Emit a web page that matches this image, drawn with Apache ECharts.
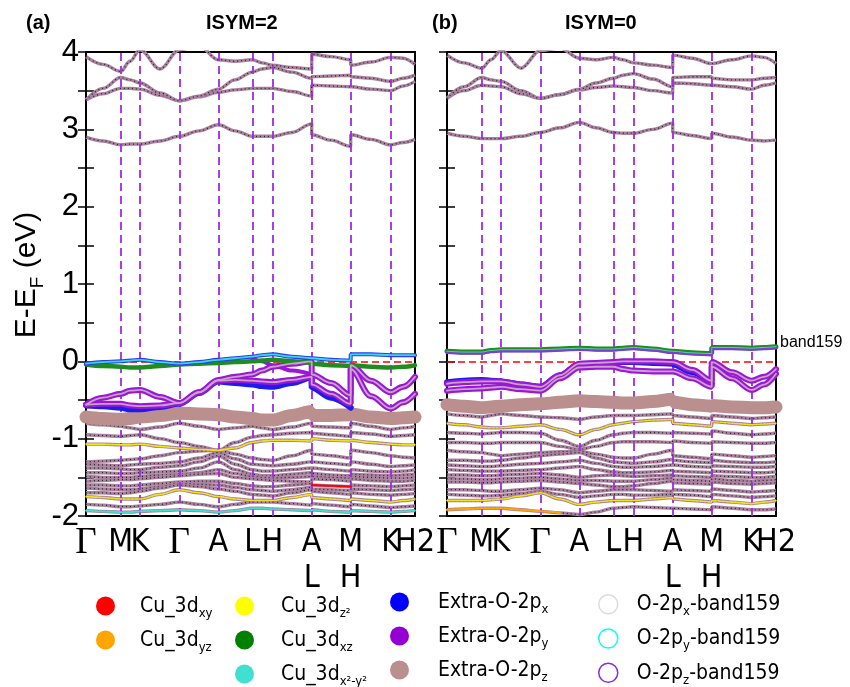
<!DOCTYPE html>
<html>
<head>
<meta charset="UTF-8" />
<script src="https://cdn.jsdelivr.net/npm/echarts@6/dist/echarts.min.js"></script>
</head>
<body style="margin:0">
<div id="main" style="width: 850px; height: 687px"></div>
<script type="text/javascript">
// k-path (same spacing in both panels), two values at the path breaks A|L and M|H
var kGrid = [0, 17, 34.7, 44, 54, 74, 93.3, 113, 132.3, 149, 166.3, 176, 186.3, 206, 225.7, 225.7, 245, 264.7, 264.7, 285, 304.7, 317, 329];
var kTicks = [0, 34.7, 54, 93.3, 132.3, 166.3, 186.3, 225.7, 264.7, 304.7];
var kLabels = ['Γ', 'M', 'K', 'Γ', 'A', 'L', 'H', 'A\nL', 'M\nH', 'K'];
var kEnd = 329;
var kEndLabel = 'H2';

// (a) ISYM=2
var aUp29 = [2.90, 2.85, 2.80, 2.81, 2.81, 2.85, 2.91, 2.98, 3.06, 2.98, 2.91, 2.91, 2.91, 2.96, 3.07, 2.93, 2.86, 2.78, 2.93, 2.87, 2.80, 2.83, 2.87];
var aUp1 = [3.38, 3.46, 3.53, 3.53, 3.52, 3.44, 3.37, 3.42, 3.48, 3.51, 3.53, 3.53, 3.53, 3.49, 3.43, 3.57, 3.56, 3.55, 3.55, 3.52, 3.50, 3.56, 3.62];
var aUp2 = [3.38, 3.53, 3.67, 3.64, 3.60, 3.47, 3.37, 3.43, 3.52, 3.64, 3.74, 3.78, 3.80, 3.74, 3.66, 3.68, 3.69, 3.70, 3.68, 3.66, 3.62, 3.66, 3.70];
var aUp3 = [3.94, 3.84, 3.75, 3.88, 4.03, 3.78, 4.03, 4.08, 3.90, 3.88, 3.90, 3.86, 3.83, 3.80, 3.78, 3.97, 3.94, 3.90, 3.83, 3.87, 3.93, 3.92, 3.84];
var aTop = [-0.03, -0.01, 0.00, 0.01, 0.02, -0.01, -0.03, -0.01, 0.02, 0.04, 0.06, 0.08, 0.09, 0.06, 0.04, 0.04, 0.02, 0.01, 0.09, 0.09, 0.08, 0.08, 0.08];
var aXz = [-0.04, -0.06, -0.07, -0.08, -0.08, -0.06, -0.04, -0.03, -0.02, -0.01, 0.00, 0.01, 0.02, 0.00, -0.02, -0.03, -0.05, -0.06, -0.05, -0.07, -0.08, -0.07, -0.05];
var aPy1 = [-0.56, -0.47, -0.42, -0.38, -0.37, -0.46, -0.54, -0.40, -0.24, -0.20, -0.17, -0.12, -0.07, -0.03, 0.00, -0.17, -0.28, -0.44, -0.05, -0.25, -0.40, -0.33, -0.20];
var aPy2 = [-0.56, -0.55, -0.55, -0.57, -0.58, -0.57, -0.54, -0.40, -0.25, -0.24, -0.25, -0.26, -0.27, -0.24, -0.20, -0.30, -0.42, -0.55, -0.10, -0.45, -0.61, -0.53, -0.42];
var aPy3 = [null, null, null, null, null, null, null, null, null, null, 0.04, 0.00, -0.05, -0.12, -0.17, null, null, null, null, null, null, null, null];
var aPx = [-0.57, -0.58, -0.60, -0.62, -0.62, -0.59, -0.55, -0.41, -0.26, -0.28, -0.30, -0.32, -0.33, -0.28, -0.21, -0.34, -0.47, -0.60, null, null, null, null, null];
var aPz = [-0.72, -0.74, -0.75, -0.74, -0.72, -0.70, -0.67, -0.68, -0.69, -0.72, -0.74, -0.76, -0.76, -0.70, -0.65, -0.70, -0.70, -0.69, -0.68, -0.72, -0.74, -0.73, -0.72];
var aD0 = [-0.80, -0.82, -0.84, -0.86, -0.88, -0.85, -0.80, -0.84, -0.88, -0.86, -0.84, -0.86, -0.88, -0.85, -0.80, -0.84, -0.85, -0.86, -0.80, -0.84, -0.88, -0.86, -0.84];
var aD1 = [-0.95, -0.96, -0.97, -0.96, -0.95, -1.00, -1.05, -1.10, -1.15, -1.05, -0.98, -0.96, -0.95, -0.93, -0.92, -0.93, -0.95, -0.97, -0.92, -0.94, -0.97, -0.96, -0.95];
var aD2 = [-1.07, -1.07, -1.08, -1.08, -1.07, -1.10, -1.12, -1.14, -1.15, -1.12, -1.05, -1.03, -1.02, -1.02, -1.03, -1.00, -1.02, -1.03, -1.02, -1.05, -1.07, -1.08, -1.08];
var aD3 = [-1.30, -1.29, -1.28, -1.27, -1.26, -1.22, -1.18, -1.16, -1.15, -1.20, -1.25, -1.27, -1.28, -1.22, -1.15, -1.20, -1.22, -1.25, -1.15, -1.18, -1.22, -1.24, -1.25];
var aD4 = [-1.33, -1.34, -1.35, -1.34, -1.33, -1.32, -1.30, -1.25, -1.18, -1.26, -1.33, -1.34, -1.35, -1.33, -1.30, -1.30, -1.32, -1.34, -1.30, -1.33, -1.36, -1.35, -1.34];
var aD5 = [-1.38, -1.38, -1.39, -1.40, -1.40, -1.37, -1.35, -1.30, -1.22, -1.33, -1.40, -1.42, -1.42, -1.40, -1.38, -1.38, -1.40, -1.42, -1.40, -1.42, -1.43, -1.42, -1.40];
var aD6 = [-1.44, -1.44, -1.45, -1.45, -1.44, -1.43, -1.42, -1.38, -1.30, -1.40, -1.46, -1.48, -1.48, -1.46, -1.44, -1.45, -1.47, -1.48, -1.46, -1.47, -1.48, -1.47, -1.46];
var aD6b = [-1.49, -1.50, -1.50, -1.50, -1.49, -1.47, -1.46, -1.44, -1.40, -1.45, -1.49, -1.50, -1.51, -1.50, -1.49, -1.49, -1.50, -1.51, -1.49, -1.50, -1.51, -1.51, -1.50];
var aD7 = [-1.55, -1.54, -1.53, -1.53, -1.52, -1.50, -1.48, -1.46, -1.45, -1.50, -1.52, -1.53, -1.54, -1.55, -1.56, -1.52, -1.53, -1.55, -1.52, -1.54, -1.55, -1.55, -1.54];
var aD8 = [-1.60, -1.60, -1.61, -1.61, -1.60, -1.58, -1.56, -1.55, -1.55, -1.58, -1.61, -1.62, -1.62, -1.60, -1.58, -1.60, -1.61, -1.62, -1.60, -1.61, -1.62, -1.61, -1.60];
var aD8b = [-1.64, -1.65, -1.66, -1.66, -1.65, -1.62, -1.58, -1.59, -1.60, -1.63, -1.66, -1.67, -1.68, -1.66, -1.63, -1.65, -1.66, -1.67, -1.65, -1.66, -1.67, -1.66, -1.65];
var aD9 = [-1.70, -1.70, -1.71, -1.70, -1.68, -1.64, -1.60, -1.62, -1.65, -1.68, -1.72, -1.73, -1.74, -1.70, -1.66, -1.68, -1.70, -1.72, -1.70, -1.72, -1.73, -1.72, -1.71];
var aD10 = [-1.75, -1.76, -1.78, -1.78, -1.78, -1.72, -1.66, -1.70, -1.75, -1.78, -1.80, -1.80, -1.80, -1.76, -1.72, -1.76, -1.78, -1.80, -1.78, -1.80, -1.82, -1.80, -1.78];
var aD11 = [-1.85, -1.86, -1.88, -1.88, -1.87, -1.85, -1.82, -1.85, -1.88, -1.85, -1.82, -1.82, -1.82, -1.84, -1.86, -1.84, -1.86, -1.88, -1.85, -1.87, -1.89, -1.88, -1.87];
var aD12 = [-1.93, -1.94, -1.95, -1.95, -1.94, -1.93, -1.92, -1.93, -1.95, -1.93, -1.90, -1.90, -1.91, -1.92, -1.93, -1.92, -1.94, -1.95, -1.93, -1.94, -1.95, -1.94, -1.93];
var aXySeg = [null, null, null, null, null, null, null, null, null, null, null, null, null, null, null, -1.60, -1.61, -1.62, null, null, null, null, null];

// (b) ISYM=0
var bUp29 = [2.95, 2.91, 2.88, 2.88, 2.88, 2.91, 2.96, 3.02, 3.09, 3.02, 2.96, 2.95, 2.95, 3.00, 3.08, 2.96, 2.92, 2.88, 2.95, 2.90, 2.86, 2.85, 2.86];
var bUp1 = [3.40, 3.50, 3.57, 3.56, 3.55, 3.46, 3.40, 3.45, 3.51, 3.54, 3.56, 3.55, 3.54, 3.50, 3.47, 3.60, 3.59, 3.57, 3.57, 3.55, 3.52, 3.57, 3.60];
var bUp2 = [3.40, 3.55, 3.67, 3.64, 3.62, 3.50, 3.40, 3.45, 3.52, 3.60, 3.66, 3.70, 3.72, 3.65, 3.55, 3.67, 3.68, 3.68, 3.66, 3.64, 3.64, 3.66, 3.67];
var bUp3 = [3.96, 3.86, 3.79, 3.90, 4.02, 3.79, 4.02, 4.05, 3.92, 3.90, 3.93, 3.90, 3.86, 3.83, 3.80, 3.96, 3.92, 3.85, 3.85, 3.90, 3.95, 3.93, 3.85];
var bXz = [0.13, 0.12, 0.12, 0.14, 0.15, 0.15, 0.15, 0.16, 0.17, 0.16, 0.16, 0.17, 0.18, 0.16, 0.13, 0.13, 0.11, 0.10, 0.18, 0.18, 0.17, 0.18, 0.19];
var bCore = [0.11, 0.10, 0.10, 0.12, 0.13, 0.13, 0.13, 0.14, 0.15, 0.14, 0.14, 0.15, 0.16, 0.14, 0.11, 0.11, 0.09, 0.08, 0.16, 0.16, 0.15, 0.16, 0.17];
var bPy1 = [-0.29, -0.27, -0.26, -0.26, -0.26, -0.30, -0.33, -0.18, -0.03, -0.02, -0.01, 0.00, 0.00, 0.00, -0.01, -0.01, -0.11, -0.25, -0.01, -0.14, -0.25, -0.20, -0.10];
var bPy2 = [-0.38, -0.36, -0.35, -0.34, -0.33, -0.36, -0.38, -0.22, -0.08, -0.07, -0.07, -0.10, -0.12, -0.13, -0.13, -0.13, -0.22, -0.33, -0.07, -0.22, -0.37, -0.30, -0.16];
var bPx = [-0.27, -0.25, -0.24, -0.25, -0.26, -0.30, -0.33, -0.18, -0.04, -0.03, -0.02, -0.01, -0.01, -0.02, -0.03, -0.04, -0.14, -0.29, null, null, null, null, null];
var bPz = [-0.56, -0.58, -0.60, -0.59, -0.58, -0.56, -0.55, -0.53, -0.51, -0.52, -0.53, -0.54, -0.54, -0.52, -0.49, -0.53, -0.56, -0.58, -0.57, -0.59, -0.60, -0.60, -0.59];
var bD1 = [-0.68, -0.70, -0.72, -0.70, -0.68, -0.70, -0.72, -0.73, -0.75, -0.72, -0.70, -0.70, -0.70, -0.69, -0.68, -0.70, -0.72, -0.74, -0.70, -0.72, -0.74, -0.73, -0.72];
var bD2 = [-0.80, -0.82, -0.85, -0.86, -0.86, -0.84, -0.82, -0.88, -0.95, -0.88, -0.82, -0.80, -0.78, -0.76, -0.75, -0.80, -0.82, -0.84, -0.78, -0.80, -0.82, -0.81, -0.80];
var bD3 = [-0.92, -0.93, -0.94, -0.93, -0.92, -0.92, -0.93, -1.02, -1.10, -1.02, -0.95, -0.93, -0.92, -0.92, -0.93, -0.92, -0.93, -0.94, -0.90, -0.93, -0.95, -0.94, -0.93];
var bD4 = [-1.05, -1.05, -1.06, -1.06, -1.05, -1.05, -1.05, -1.10, -1.14, -1.10, -1.05, -1.04, -1.04, -1.04, -1.05, -1.03, -1.05, -1.06, -1.04, -1.05, -1.06, -1.06, -1.05];
var bD5 = [-1.15, -1.17, -1.18, -1.20, -1.22, -1.20, -1.18, -1.17, -1.16, -1.20, -1.24, -1.25, -1.25, -1.20, -1.15, -1.22, -1.24, -1.26, -1.20, -1.22, -1.24, -1.23, -1.22];
var bD6 = [-1.28, -1.28, -1.29, -1.29, -1.28, -1.25, -1.22, -1.20, -1.18, -1.25, -1.30, -1.31, -1.32, -1.30, -1.27, -1.28, -1.30, -1.31, -1.28, -1.30, -1.31, -1.31, -1.30];
var bD7 = [-1.34, -1.35, -1.36, -1.36, -1.35, -1.33, -1.32, -1.30, -1.28, -1.32, -1.36, -1.37, -1.37, -1.36, -1.34, -1.34, -1.36, -1.37, -1.35, -1.36, -1.37, -1.37, -1.36];
var bD8 = [-1.40, -1.41, -1.42, -1.42, -1.42, -1.41, -1.40, -1.38, -1.36, -1.40, -1.43, -1.44, -1.44, -1.43, -1.41, -1.42, -1.43, -1.44, -1.42, -1.43, -1.44, -1.44, -1.43];
var bD9 = [-1.47, -1.47, -1.48, -1.48, -1.47, -1.46, -1.45, -1.47, -1.50, -1.48, -1.47, -1.48, -1.49, -1.48, -1.47, -1.48, -1.49, -1.50, -1.48, -1.49, -1.50, -1.50, -1.49];
var bD9b = [-1.52, -1.52, -1.53, -1.53, -1.52, -1.51, -1.50, -1.52, -1.54, -1.54, -1.55, -1.55, -1.55, -1.53, -1.51, -1.53, -1.54, -1.55, -1.52, -1.54, -1.55, -1.54, -1.53];
var bD10 = [-1.56, -1.56, -1.57, -1.57, -1.56, -1.55, -1.54, -1.56, -1.58, -1.60, -1.62, -1.62, -1.61, -1.58, -1.55, -1.57, -1.58, -1.59, -1.56, -1.58, -1.59, -1.58, -1.57];
var bD11 = [-1.66, -1.66, -1.67, -1.68, -1.68, -1.66, -1.64, -1.66, -1.70, -1.68, -1.66, -1.66, -1.66, -1.67, -1.68, -1.66, -1.67, -1.68, -1.65, -1.67, -1.69, -1.68, -1.67];
var bD11b = [-1.72, -1.73, -1.74, -1.74, -1.73, -1.71, -1.68, -1.72, -1.76, -1.74, -1.72, -1.72, -1.73, -1.73, -1.72, -1.72, -1.73, -1.75, -1.72, -1.74, -1.76, -1.75, -1.74];
var bD12 = [-1.80, -1.80, -1.80, -1.79, -1.78, -1.74, -1.70, -1.78, -1.85, -1.82, -1.80, -1.80, -1.80, -1.78, -1.76, -1.78, -1.80, -1.82, -1.80, -1.82, -1.84, -1.82, -1.80];
var bD13 = [-1.92, -1.91, -1.90, -1.90, -1.90, -1.92, -1.94, -1.96, -1.98, -1.95, -1.90, -1.89, -1.88, -1.89, -1.90, -1.90, -1.91, -1.92, -1.88, -1.90, -1.92, -1.92, -1.91];
var bYzSeg = [-1.92, -1.91, -1.90, -1.90, -1.90, -1.92, -1.94, -1.96, null, null, null, null, null, null, null, null, null, null, null, null, null, null, null];

var legendCols = [
    ['Cu_3d_xy', 'Cu_3d_yz'],
    ['Cu_3d_z2', 'Cu_3d_xz', 'Cu_3d_x2-y2'],
    ['Extra-O-2p_x', 'Extra-O-2p_y', 'Extra-O-2p_z'],
    ['O-2p_x-band159', 'O-2p_y-band159', 'O-2p_z-band159']
];
var legendText = {
    'Cu_3d_xy': '{m|Cu_3d}{s|xy}',
    'Cu_3d_yz': '{m|Cu_3d}{s|yz}',
    'Cu_3d_z2': '{m|Cu_3d}{s|z²}',
    'Cu_3d_xz': '{m|Cu_3d}{s|xz}',
    'Cu_3d_x2-y2': '{m|Cu_3d}{s|x²-y²}',
    'Extra-O-2p_x': '{m|Extra-O-2p}{s|x}',
    'Extra-O-2p_y': '{m|Extra-O-2p}{s|y}',
    'Extra-O-2p_z': '{m|Extra-O-2p}{s|z}',
    'O-2p_x-band159': '{m|O-2p}{s|x}{m|-band159}',
    'O-2p_y-band159': '{m|O-2p}{s|y}{m|-band159}',
    'O-2p_z-band159': '{m|O-2p}{s|z}{m|-band159}'
};
var colors = {
    'Cu_3d_xy': '#ff0000',
    'Cu_3d_yz': '#ffa500',
    'Cu_3d_z2': '#ffff00',
    'Cu_3d_xz': '#008000',
    'Cu_3d_x2-y2': '#40e0d0',
    'Extra-O-2p_x': '#0000ff',
    'Extra-O-2p_y': '#9400d3',
    'Extra-O-2p_z': '#bc8f8f',
    'O-2p_x-band159': '#dcdcdc',
    'O-2p_y-band159': '#00ffff',
    'O-2p_z-band159': '#8a2be2'
};

var sans = 'Liberation Sans, Arial, sans-serif';
var narrow = 'Liberation Sans Narrow, Arial Narrow, DejaVu Sans Condensed, sans-serif';

var series = [];

function pts(arr) {
    return arr.map(function (e, i) {
        return [kGrid[i], e === null ? '-' : e];
    });
}

function plainBand(arr, g) {
    series.push({
        type: 'line', xAxisIndex: g * 2, yAxisIndex: g * 2, data: pts(arr),
        showSymbol: false, smooth: 0.35, smoothMonotone: 'x', silent: true, z: 2,
        lineStyle: { color: '#a9819f', width: 3.4 }
    });
    series.push({
        type: 'line', xAxisIndex: g * 2, yAxisIndex: g * 2, data: pts(arr),
        showSymbol: false, smooth: 0.35, smoothMonotone: 'x', silent: true, z: 2,
        lineStyle: { color: '#222', width: 1.3, type: [1, 3] }
    });
}

function fatBand(name, arr, g, color, width, z) {
    series.push({
        name: name, type: 'line', xAxisIndex: g * 2, yAxisIndex: g * 2, data: pts(arr),
        showSymbol: false, smooth: 0.35, smoothMonotone: 'x', silent: true, z: z,
        itemStyle: { color: color },
        lineStyle: { color: color, width: width, cap: 'round' }
    });
}

[[aUp29, aUp1, aUp2, aUp3, aD0, aD1, aD2, aD3, aD4, aD5, aD6, aD6b, aD7, aD8, aD8b, aD9, aD10, aD11, aD12],
 [bUp29, bUp1, bUp2, bUp3, bD1, bD2, bD3, bD4, bD5, bD6, bD7, bD8, bD9, bD9b, bD10, bD11, bD11b, bD12, bD13]].forEach(function (list, g) {
    list.forEach(function (arr) { plainBand(arr, g); });
});

// k-point separators and the Fermi level
[0, 1].forEach(function (g) {
    series.push({
        type: 'line', xAxisIndex: g * 2, yAxisIndex: g * 2, data: [], silent: true,
        markLine: {
            z: 3, silent: true, symbol: 'none', label: { show: false },
            lineStyle: { color: '#9d2bea', width: 1.8, type: [8, 5] },
            data: kTicks.slice(1).map(function (k) { return { xAxis: k }; })
        }
    });
    series.push({
        type: 'line', xAxisIndex: g * 2, yAxisIndex: g * 2, data: [], silent: true,
        markLine: {
            z: 3, silent: true, symbol: 'none', label: { show: false },
            lineStyle: { color: '#ff0000', width: 1.6, type: [7, 4] },
            data: [{ yAxis: 0 }]
        }
    });
});

// projected (fat) bands, panel (a)
fatBand('O-2p_x-band159', aTop, 0, colors['O-2p_x-band159'], 1, 3);
fatBand('Cu_3d_z2', aD2, 0, '#f2e21a', 1.6, 3);
fatBand('Cu_3d_z2', aD10, 0, '#f2e21a', 1.6, 3);
fatBand('Cu_3d_x2-y2', aD12, 0, colors['Cu_3d_x2-y2'], 1.8, 3);
fatBand('Cu_3d_xy', aXySeg, 0, colors['Cu_3d_xy'], 2, 3);
fatBand('Extra-O-2p_z', aPz, 0, colors['Extra-O-2p_z'], 13, 4);
fatBand('Extra-O-2p_x', aPx, 0, '#1c1cf0', 6, 5);
fatBand('Extra-O-2p_y', aPy1, 0, '#9a16d8', 6, 6);
fatBand('Extra-O-2p_y', aPy2, 0, '#9a16d8', 6, 6);
fatBand('Extra-O-2p_y', aPy3, 0, '#9a16d8', 4, 6);
fatBand('', aPy1, 0, '#c9a3c2', 1.8, 7);
fatBand('', aPy2, 0, '#c9a3c2', 1.8, 7);
fatBand('Cu_3d_xz', aXz, 0, '#1e8c1e', 4.5, 6);
fatBand('Extra-O-2p_x', aTop, 0, '#2a3cf0', 4, 7);
fatBand('O-2p_y-band159', aTop, 0, '#38d8ea', 1.8, 8);

// projected (fat) bands, panel (b)
fatBand('O-2p_x-band159', bCore, 1, colors['O-2p_x-band159'], 1, 3);
fatBand('Cu_3d_z2', bD12, 1, '#f2e21a', 1.6, 3);
fatBand('Cu_3d_z2', bD2, 1, '#f2e21a', 1.4, 3);
fatBand('Cu_3d_yz', bYzSeg, 1, colors['Cu_3d_yz'], 2, 3);
fatBand('Extra-O-2p_z', bPz, 1, colors['Extra-O-2p_z'], 13, 4);
fatBand('Extra-O-2p_x', bPx, 1, '#1c1cf0', 6, 5);
fatBand('Extra-O-2p_y', bPy1, 1, '#9a16d8', 6, 6);
fatBand('Extra-O-2p_y', bPy2, 1, '#9a16d8', 6, 6);
fatBand('', bPy1, 1, '#c9a3c2', 1.8, 7);
fatBand('', bPy2, 1, '#c9a3c2', 1.8, 7);
fatBand('Cu_3d_xz', bXz, 1, '#1e8c1e', 5, 6);
fatBand('O-2p_z-band159', bCore, 1, '#7b3fd0', 2.5, 7);
fatBand('O-2p_y-band159', bXz, 1, '#5fd0b0', 1, 7);

function kLabel(v) {
    var best = 0;
    kTicks.forEach(function (k, i) {
        if (Math.abs(k - v) < Math.abs(kTicks[best] - v)) best = i;
    });
    var s = kLabels[best];
    return s === 'Γ' ? '{g|Γ}' : s;
}

var xLabelStyle = {
    margin: 9, color: '#000', fontSize: 32, lineHeight: 36, fontFamily: narrow,
    rich: { g: { fontFamily: 'Liberation Serif, Times New Roman, serif', fontSize: 37, lineHeight: 36 } }
};

// main k labels, plus a separate axis for the end label so the overlap check keeps both
function xAx(g, end) {
    var lab = Object.assign({}, xLabelStyle, end
        ? { customValues: [kEnd], formatter: function () { return kEndLabel; } }
        : { customValues: kTicks, formatter: kLabel });
    return {
        gridIndex: g, type: 'value', position: 'bottom', min: 0, max: kEnd,
        axisLine: { show: false }, axisTick: { show: false }, splitLine: { show: false },
        axisLabel: lab
    };
}

function yAx(g, pos, withLabels) {
    var ax = {
        gridIndex: g, type: 'value', position: pos, min: -2, max: 4, interval: 0.5,
        axisLine: { show: false }, splitLine: { show: false },
        axisTick: { show: true, inside: true, length: 8, lineStyle: { color: '#000', width: 1.5 } },
        axisLabel: {
            show: withLabels, margin: 7, color: '#000', fontSize: 31, fontFamily: sans,
            formatter: function (v) { return v % 1 === 0 ? String(v) : ''; }
        }
    };
    if (withLabels) {
        ax.name = '{m|E-E}{s|F}{m| (eV)}';
        ax.nameLocation = 'middle';
        ax.nameRotate = 90;
        ax.nameGap = 42;
        ax.nameTextStyle = {
            color: '#000', padding: [0, 0, 0, 18],
            rich: {
                m: { fontSize: 30, fontFamily: sans, lineHeight: 32, verticalAlign: 'top' },
                s: { fontSize: 19, fontFamily: sans, lineHeight: 19, padding: [17, 0, 0, 0], verticalAlign: 'top' }
            }
        };
    }
    return ax;
}

var legendPos = [[96, 596, 20], [235, 596, 22], [390, 592, 24], [598, 594, 14]];

function legendCol(names, c) {
    return {
        orient: 'vertical', left: legendPos[c][0], top: legendPos[c][1], height: 120, padding: 0,
        itemGap: 10, itemWidth: 19, itemHeight: 19, selectedMode: false,
        data: names.map(function (n) {
            var hollow = n.indexOf('band159') > 0;
            return {
                name: n, icon: 'circle',
                itemStyle: hollow
                    ? { color: '#fff', borderColor: colors[n], borderWidth: 1.5 }
                    : { color: colors[n], borderWidth: 0 }
            };
        }),
        formatter: function (n) { return '{p| }' + legendText[n]; },
        textStyle: {
            color: '#000',
            rich: {
                p: { width: legendPos[c][2] },
                m: { fontSize: 21, fontFamily: narrow, lineHeight: 20, verticalAlign: 'top' },
                s: { fontSize: 13, fontFamily: narrow, lineHeight: 12, padding: [11, 0, 0, 0], verticalAlign: 'top' }
            }
        }
    };
}

var chartDom = document.getElementById('main');
var myChart = echarts.init(chartDom);
var option;

var titleStyle = { fontSize: 20, fontWeight: 'bold', fontFamily: sans, color: '#000' };
option = {
    animation: false,
    backgroundColor: '#fff',
    title: [
        { text: '(a)', left: 26, top: 13, padding: 0, textStyle: titleStyle },
        { text: 'ISYM=2', left: 206, top: 13, padding: 0, textStyle: titleStyle },
        { text: '(b)', left: 432, top: 13, padding: 0, textStyle: titleStyle },
        { text: 'ISYM=0', left: 565, top: 13, padding: 0, textStyle: titleStyle }
    ],
    grid: [
        { left: 86, width: 329, top: 52, height: 464, show: true, borderColor: '#000', borderWidth: 2, backgroundColor: 'transparent' },
        { left: 447, width: 329, top: 52, height: 464, show: true, borderColor: '#000', borderWidth: 2, backgroundColor: 'transparent' }
    ],
    xAxis: [xAx(0, false), xAx(0, true), xAx(1, false), xAx(1, true)],
    yAxis: [yAx(0, 'left', true), yAx(0, 'right', false), yAx(1, 'left', false), yAx(1, 'right', false)],
    legend: legendCols.map(legendCol),
    graphic: [
        { type: 'text', left: 780, top: 335, style: { text: 'band159', fontSize: 16, fontFamily: sans, fill: '#000' } }
    ],
    series: series
};

option && myChart.setOption(option);
</script>
</body>
</html>
